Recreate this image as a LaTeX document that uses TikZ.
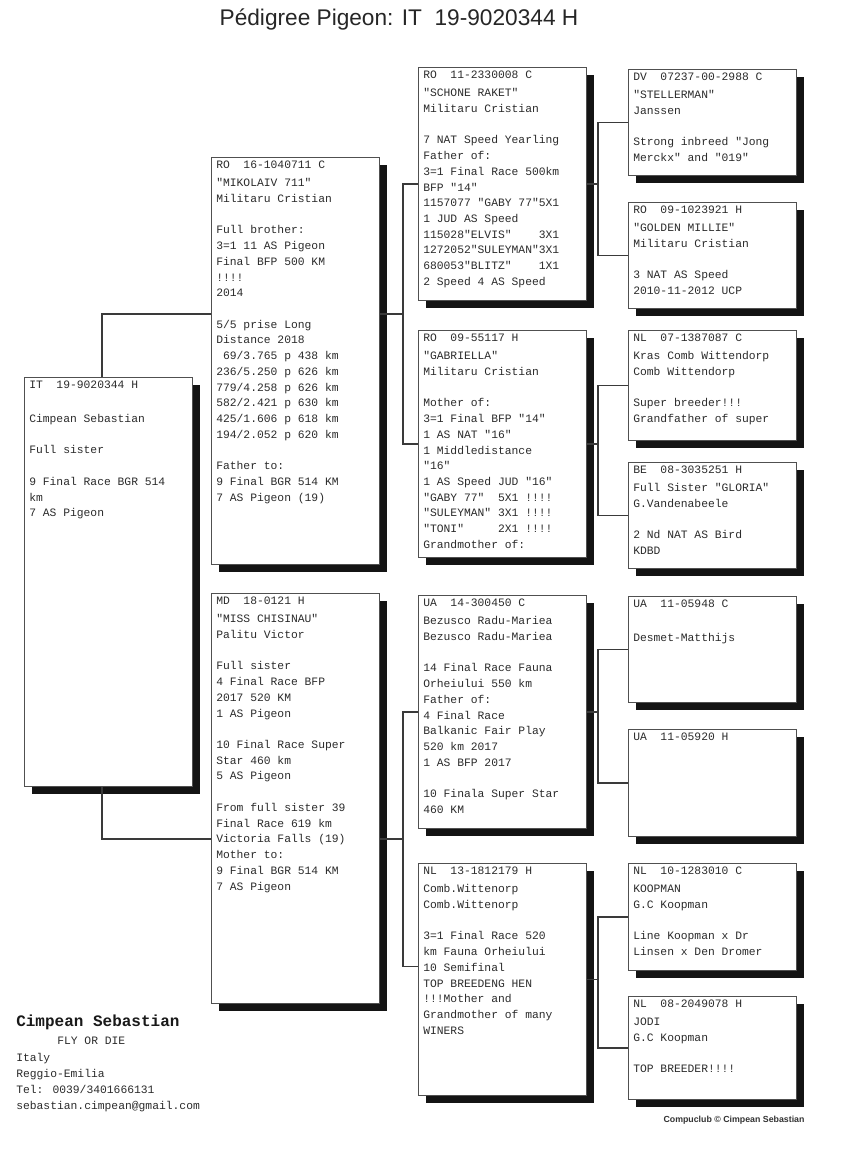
\documentclass[tikz,border=0pt]{standalone}
\usepackage{fontspec}
\setmainfont{Liberation Sans}
\newfontfamily\monof{Liberation Mono}
\usetikzlibrary{shadows}
\definecolor{textc}{HTML}{2B2B2B}
\definecolor{linec}{HTML}{3A3A3A}
\definecolor{boxc}{HTML}{505050}
\definecolor{shadowc}{HTML}{141414}
\newcommand\firststrut{\rule{0pt}{7pt}}
\begin{document}
\begin{tikzpicture}[x=0.75pt, y=-0.75pt,
  pbox/.style={draw=boxc, fill=white, line width=0.7pt, anchor=north west, inner sep=0pt, minimum width=126pt,
    drop shadow={shadow xshift=6pt, shadow yshift=-6pt, fill=shadowc, opacity=1}},
  ptext/.style={anchor=north west, inner sep=0pt, align=left, text=textc, font=\monof\fontsize{8.5}{11.8}\selectfont},
  plain/.style={anchor=base west, inner sep=0pt, text=textc, font=\monof\fontsize{8.5}{11.8}\selectfont},
  conn/.style={draw=linec, line width=0.8pt},
]
\newcommand\pnode[6]{%
  \node[pbox, minimum height=#4*0.75pt] (#1) at (#2,#3) {};
  \node[ptext] (#1t) at ([xshift=3.75pt, yshift=-1.5pt]#1.north west) {\firststrut#5\\[1.7pt]#6};
}
\useasboundingbox[fill=white] (0,0) rectangle (850,1170);

\node[font=\fontsize{17}{20}\selectfont, text=black!85, inner sep=0pt] (title) at (399,20) {Pédigree Pigeon: IT~~19-9020344 H};

% generation 1
\pnode{root}{24}{377}{409}{IT~~19-9020344 H}{\\ Cimpean Sebastian\\ \\ Full sister\\ \\ 9 Final Race BGR 514\\ km\\ 7 AS Pigeon}

% generation 2
\pnode{sire}{211}{157}{407}{RO~~16-1040711 C}{"MIKOLAIV 711"\\ Militaru Cristian\\ \\ Full brother:\\ 3=1 11 AS Pigeon\\ Final BFP 500 KM\\ !!!!\\ 2014\\ \\ 5/5 prise Long\\ Distance 2018\\ ~69/3.765 p 438 km\\ 236/5.250 p 626 km\\ 779/4.258 p 626 km\\ 582/2.421 p 630 km\\ 425/1.606 p 618 km\\ 194/2.052 p 620 km\\ \\ Father to:\\ 9 Final BGR 514 KM\\ 7 AS Pigeon (19)}

\pnode{dam}{211}{593}{410}{MD~~18-0121 H}{"MISS CHISINAU"\\ Palitu Victor\\ \\ Full sister\\ 4 Final Race BFP\\ 2017 520 KM\\ 1 AS Pigeon\\ \\ 10 Final Race Super\\ Star 460 km\\ 5 AS Pigeon\\ \\ From full sister 39\\ Final Race 619 km\\ Victoria Falls (19)\\ Mother to:\\ 9 Final BGR 514 KM\\ 7 AS Pigeon}

% generation 3
\pnode{b4}{418}{67}{233}{RO~~11-2330008 C}{"SCHONE RAKET"\\ Militaru Cristian\\ \\ 7 NAT Speed Yearling\\ Father of:\\ 3=1 Final Race 500km\\ BFP "14"\\ 1157077 "GABY 77"5X1\\ 1 JUD AS Speed\\ 115028"ELVIS"~~~~3X1\\ 1272052"SULEYMAN"3X1\\ 680053"BLITZ"~~~~1X1\\ 2 Speed 4 AS Speed}

\pnode{b5}{418}{330}{227}{RO~~09-55117 H}{"GABRIELLA"\\ Militaru Cristian\\ \\ Mother of:\\ 3=1 Final BFP "14"\\ 1 AS NAT "16"\\ 1 Middledistance\\ "16"\\ 1 AS Speed JUD "16"\\ "GABY 77"~~5X1 !!!!\\ "SULEYMAN" 3X1 !!!!\\ "TONI"~~~~~2X1 !!!!\\ Grandmother of:}

\pnode{b6}{418}{595}{233}{UA~~14-300450 C}{Bezusco Radu-Mariea\\ Bezusco Radu-Mariea\\ \\ 14 Final Race Fauna\\ Orheiului 550 km\\ Father of:\\ 4 Final Race\\ Balkanic Fair Play\\ 520 km 2017\\ 1 AS BFP 2017\\ \\ 10 Finala Super Star\\ 460 KM}

\pnode{b7}{418}{863}{232}{NL~~13-1812179 H}{Comb.Wittenorp\\ Comb.Wittenorp\\ \\ 3=1 Final Race 520\\ km Fauna Orheiului\\ 10 Semifinal\\ TOP BREEDENG HEN\\ !!!Mother and\\ Grandmother of many\\ WINERS}

% generation 4
\pnode{b8}{628}{69}{106}{DV~~07237-00-2988 C}{"STELLERMAN"\\ Janssen\\ \\ Strong inbreed "Jong\\ Merckx" and "019"}
\pnode{b9}{628}{202}{106}{RO~~09-1023921 H}{"GOLDEN MILLIE"\\ Militaru Cristian\\ \\ 3 NAT AS Speed\\ 2010-11-2012 UCP}
\pnode{b10}{628}{330}{110}{NL~~07-1387087 C}{Kras Comb Wittendorp\\ Comb Wittendorp\\ \\ Super breeder!!!\\ Grandfather of super}
\pnode{b11}{628}{462}{106}{BE~~08-3035251 H}{Full Sister "GLORIA"\\ G.Vandenabeele\\ \\ 2 Nd NAT AS Bird\\ KDBD}
\pnode{b12}{628}{596}{106}{UA~~11-05948 C}{\\ Desmet-Matthijs}
\pnode{b13}{628}{729}{107}{UA~~11-05920 H}{}
\pnode{b14}{628}{863}{107}{NL~~10-1283010 C}{KOOPMAN\\ G.C Koopman\\ \\ Line Koopman x Dr\\ Linsen x Den Dromer}
\pnode{b15}{628}{996}{103}{NL~~08-2049078 H}{JODI\\ G.C Koopman\\ \\ TOP BREEDER!!!!}

% connectors
\coordinate (rx) at (102,0);
\coordinate (bx2) at (598,0);
\coordinate (j1) at (403,314);
\coordinate (j2) at (403,839);

\draw[conn] (root.north -| rx) |- (sire.west |- j1);
\draw[conn] (sire.east |- j1) -- (j1);
\draw[conn] (b4.west) -| (j1) |- (b5.west);

\draw[conn] (root.south -| rx) |- (dam.west |- j2);
\draw[conn] (dam.east |- j2) -- (j2);
\draw[conn] (b6.west) -| (j2) |- ([yshift=10pt]b7.west);

\draw[conn] (b4.east) -- (b4.east -| bx2);
\draw[conn] (b8.west) -| (b4.east -| bx2) |- (b9.west);
\draw[conn] (b5.east) -- (b5.east -| bx2);
\draw[conn] (b10.west) -| (b5.east -| bx2) |- (b11.west);
\draw[conn] (b6.east) -- (b6.east -| bx2);
\draw[conn] (b12.west) -| (b6.east -| bx2) |- (b13.west);
\draw[conn] (b7.east) -- (b7.east -| bx2);
\draw[conn] (b14.west) -| (b7.east -| bx2) |- (b15.west);

% owner block
\node[anchor=base west, inner sep=0pt, text=black!90, font=\monof\bfseries\fontsize{12}{14}\selectfont] (owner) at (16,1026) {Cimpean Sebastian};
\node[plain] (motto) at (57,1044.5) {FLY OR DIE};
\node[plain] (country) at (16,1061.5) {Italy};
\node[plain] (city) at (16,1077.5) {Reggio-Emilia};
\node[plain] (tel) at (16,1093.5) {Tel: 0039/3401666131};
\node[plain] (mail) at (16,1109.5) {sebastian.cimpean@gmail.com};

\node[inner sep=0pt, text=black!80, font=\bfseries\fontsize{6.6}{7}\selectfont] (foot) at (734,1120) {Compuclub © Cimpean Sebastian};
\end{tikzpicture}
\end{document}
